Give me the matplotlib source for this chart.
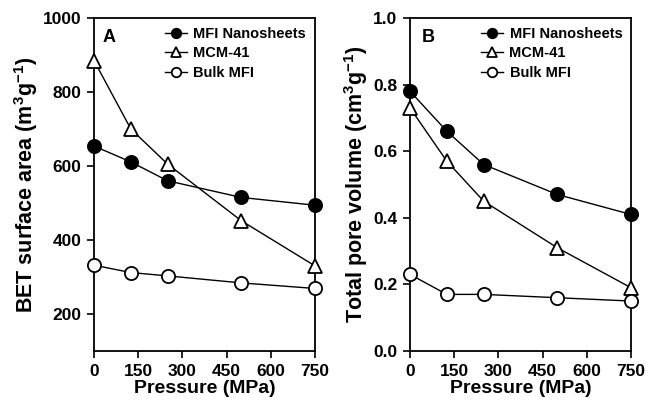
import matplotlib

matplotlib.use("Agg")
import matplotlib.pyplot as plt

plt.rcParams["font.family"] = ["Liberation Sans", "DejaVu Sans"]
plt.rcParams["mathtext.fontset"] = "custom"
plt.rcParams["mathtext.rm"] = "Liberation Sans:bold"
plt.rcParams["mathtext.bf"] = "Liberation Sans:bold"
plt.rcParams["mathtext.default"] = "bf"

pressure = [0, 125, 250, 500, 750]

bet_nanosheets = [654, 611, 560, 515, 494]
bet_mcm41 = [885, 700, 605, 452, 330]
bet_bulk = [332, 312, 303, 284, 269]

pv_nanosheets = [0.78, 0.66, 0.56, 0.47, 0.41]
pv_mcm41 = [0.73, 0.57, 0.45, 0.31, 0.19]
pv_bulk = [0.23, 0.17, 0.17, 0.16, 0.15]

series_names = ["MFI Nanosheets", "MCM-41", "Bulk MFI"]
x_ticks = [0, 150, 300, 450, 600, 750]


def draw_panel(ax, values, letter, letter_x, ylim, yticks, ylabel, ytick_fmt):
    styles = [
        dict(marker="o", markerfacecolor="black", markersize=9.5),
        dict(marker="^", markerfacecolor="white", markersize=10),
        dict(marker="o", markerfacecolor="white", markersize=9.5),
    ]
    for vals, name, st in zip(values, series_names, styles):
        ax.plot(pressure, vals, color="black", linewidth=1.0,
                markeredgecolor="black", markeredgewidth=1.3,
                label=name, clip_on=False, zorder=3, **st)
    ax.set_xlim(0, 750)
    ax.set_ylim(*ylim)
    ax.set_xticks(x_ticks)
    ax.set_yticks(yticks)
    ax.set_yticklabels([ytick_fmt.format(v) for v in yticks])
    ax.tick_params(direction="out", length=5, width=1.2, labelsize=12.5, pad=4)
    for lab in ax.get_xticklabels() + ax.get_yticklabels():
        lab.set_fontweight("bold")
    for sp in ax.spines.values():
        sp.set_linewidth(1.3)
    ax.set_xlabel("Pressure (MPa)", fontsize=14, fontweight="bold", labelpad=1)
    ax.set_ylabel(ylabel, fontsize=15.5, fontweight="bold", labelpad=2)
    ax.text(letter_x, 0.968, letter, transform=ax.transAxes, fontsize=13,
            fontweight="bold", va="top", ha="left")
    leg = ax.legend(loc="upper right", frameon=False, fontsize=10.5,
                    handlelength=1.5, handletextpad=0.45, labelspacing=0.38,
                    borderaxespad=0.2, markerscale=0.72,
                    bbox_to_anchor=(1.0, 1.0))
    for t in leg.get_texts():
        t.set_fontweight("semibold")


fig = plt.figure(figsize=(6.46, 4.09), dpi=100)
ax1 = fig.add_axes([94 / 646, 1 - 351 / 409, 221 / 646, 333 / 409])
ax2 = fig.add_axes([410 / 646, 1 - 351 / 409, 221 / 646, 333 / 409])

draw_panel(ax1, [bet_nanosheets, bet_mcm41, bet_bulk], "A", 0.04, (100, 1000),
           [200, 400, 600, 800, 1000], "BET surface area (m$^{3}$g$^{-1}$)", "{:d}")
draw_panel(ax2, [pv_nanosheets, pv_mcm41, pv_bulk], "B", 0.055, (0.0, 1.0),
           [0.0, 0.2, 0.4, 0.6, 0.8, 1.0], "Total pore volume (cm$^{3}$g$^{-1}$)", "{:.1f}")

fig.savefig("out.png", dpi=100)
